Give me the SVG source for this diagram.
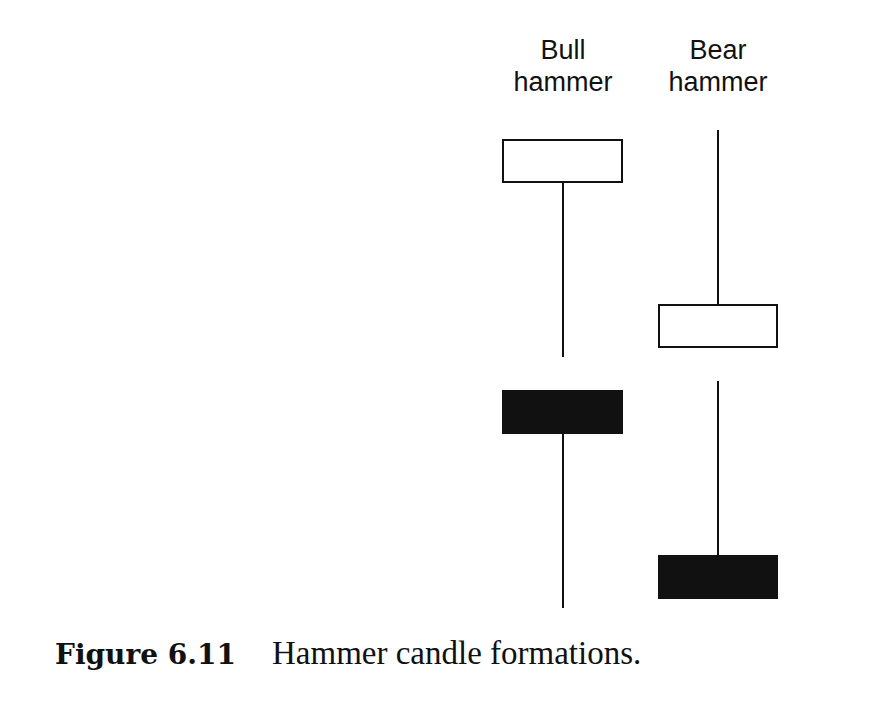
<svg xmlns="http://www.w3.org/2000/svg" width="883" height="720" viewBox="0 0 883 720">
<style>
.lbl{font-family:"Liberation Sans",Arial,sans-serif;font-size:27px;text-anchor:middle;fill:#111}
.w{stroke:#111;stroke-width:2;fill:none}
.o{fill:#fff;stroke:#111;stroke-width:2}
.f{fill:#111;stroke:#111;stroke-width:2}
</style>
<rect width="883" height="720" fill="#fff"/>
<g id="labels">
<text class="lbl" x="563" y="59">Bull</text>
<text class="lbl" x="563" y="91">hammer</text>
<text class="lbl" x="718" y="59">Bear</text>
<text class="lbl" x="718" y="91">hammer</text>
</g>
<g id="connectors">
<line class="w" x1="563" y1="182" x2="563" y2="357"/>
<line class="w" x1="718" y1="130" x2="718" y2="305"/>
<line class="w" x1="563" y1="433" x2="563" y2="608"/>
<line class="w" x1="718" y1="381" x2="718" y2="556"/>
</g>
<g id="bull-hollow"><rect class="o" x="503" y="140" width="119" height="42"/></g>
<g id="bear-hollow"><rect class="o" x="659" y="305" width="118" height="42"/></g>
<g id="bull-filled"><rect class="f" x="503" y="391" width="119" height="42"/></g>
<g id="bear-filled"><rect class="f" x="659" y="556" width="118" height="42"/></g>
<g id="caption">
<text x="55" y="664" style="font-family:'DejaVu Serif','Liberation Serif',serif;font-weight:bold;font-size:28px;fill:#111">Figure 6.11</text>
<text x="272" y="664" style="font-family:'Liberation Serif','Times New Roman',serif;font-size:33px;fill:#111">Hammer candle formations.</text>
</g>
</svg>
